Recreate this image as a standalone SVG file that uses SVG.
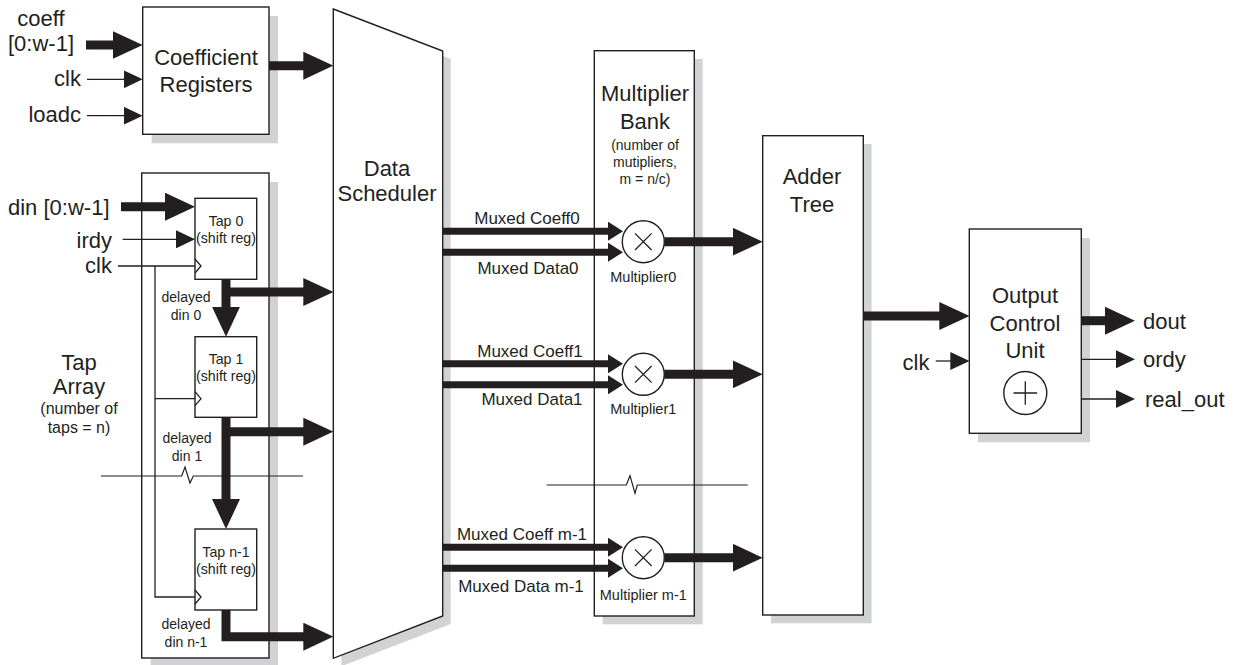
<svg xmlns="http://www.w3.org/2000/svg" width="1237" height="665" viewBox="0 0 1237 665">
<style>
.bg{fill:#ffffff}
.sh{fill:#d1d2d4;stroke:none}
.box{fill:#ffffff;stroke:#231f20;stroke-width:1.4}
.t{font-family:"Liberation Sans",Arial,sans-serif;fill:#231f20}
.l{font-size:22px}
.s{font-size:14.2px}
.m{font-size:17px}
.n{font-size:14.5px}
.c{text-anchor:middle}
.e{text-anchor:end}
.thick{fill:none;stroke:#231f20;stroke-width:9;stroke-linejoin:miter;marker-end:url(#ah)}
.med{fill:none;stroke:#231f20;stroke-width:7;marker-end:url(#am)}
.thin{fill:none;stroke:#231f20;stroke-width:1.3;marker-end:url(#at)}
.wire{fill:none;stroke:#231f20;stroke-width:1.3}
.brk{fill:none;stroke:#231f20;stroke-width:1.2}
</style>
<defs>
<marker id="ah" viewBox="0 0 30 28" refX="1" refY="14" markerWidth="30" markerHeight="28" markerUnits="userSpaceOnUse" orient="auto"><path d="M0,0 L30,14 L0,28 z" fill="#231f20"/></marker>
<marker id="am" viewBox="0 0 15 19" refX="1" refY="9.5" markerWidth="15" markerHeight="19" markerUnits="userSpaceOnUse" orient="auto"><path d="M0,0 L15,9.5 L0,19 z" fill="#231f20"/></marker>
<marker id="at" viewBox="0 0 19 18" refX="1" refY="9" markerWidth="19" markerHeight="18" markerUnits="userSpaceOnUse" orient="auto"><path d="M0,0 L19,9 L0,18 z" fill="#231f20"/></marker>
</defs>
<rect class="bg" x="0" y="0" width="1237" height="665"/>

<g id="coefficient-registers">
<rect class="sh" x="151.7" y="16" width="126.3" height="127.3"/>
<rect class="box" x="142.7" y="7" width="126.3" height="127.3"/>
<text class="t l c" x="206" y="65">Coefficient</text>
<text class="t l c" x="206" y="92">Registers</text>
</g>

<g id="tap-array">
<rect class="sh" x="150.7" y="182" width="127.3" height="485"/>
<rect class="box" x="141.7" y="173" width="127.3" height="485"/>
</g>

<g id="tap-array-label">
<text class="t l c" x="79" y="370">Tap</text>
<text class="t l c" x="79" y="394">Array</text>
<text class="t c" style="font-size:16px" x="79" y="414">(number of</text>
<text class="t c" style="font-size:16px" x="79" y="433">taps = n)</text>
</g>

<g id="tap0">
<rect class="box" x="195" y="198.3" width="61.7" height="81"/>
<polyline class="wire" points="195,259 201,266 195,273"/>
<text class="t s c" x="226" y="226">Tap 0</text>
<text class="t s c" x="226" y="243">(shift reg)</text>
</g>

<g id="tap1">
<rect class="box" x="195" y="336.7" width="61.7" height="80.6"/>
<polyline class="wire" points="195,391.7 201,398.7 195,405.7"/>
<text class="t s c" x="226" y="364">Tap 1</text>
<text class="t s c" x="226" y="381">(shift reg)</text>
</g>

<g id="tapn1">
<rect class="box" x="195" y="529" width="61.7" height="81"/>
<polyline class="wire" points="195,590 201,597 195,604"/>
<text class="t s c" x="226" y="557">Tap n-1</text>
<text class="t s c" x="226" y="574">(shift reg)</text>
</g>

<g id="data-scheduler">
<polygon class="sh" points="341.3,17 450.7,59 450.7,624 341.3,666.3"/>
<polygon class="box" points="333.3,9 442.7,51 442.7,616 333.3,658.3"/>
<text class="t l c" x="387" y="176">Data</text>
<text class="t l c" x="387" y="201">Scheduler</text>
</g>

<g id="multiplier-bank">
<rect class="sh" x="602.7" y="59" width="100" height="565.3"/>
<rect class="box" x="594.3" y="50.7" width="100" height="565.3"/>
<text class="t l c" x="645" y="101">Multiplier</text>
<text class="t l c" x="645" y="129">Bank</text>
<text class="t c" style="font-size:14px" x="645" y="150">(number of</text>
<text class="t c" style="font-size:14px" x="645" y="167">mutipliers,</text>
<text class="t c" style="font-size:14px" x="645" y="184">m = n/c)</text>
</g>

<g id="adder-tree">
<rect class="sh" x="771" y="144" width="100.6" height="479.3"/>
<rect class="box" x="762.7" y="135.7" width="100.6" height="479.3"/>
<text class="t l c" x="812" y="184">Adder</text>
<text class="t l c" x="812" y="212">Tree</text>
</g>

<g id="output-control-unit">
<rect class="sh" x="978" y="238" width="112" height="204.3"/>
<rect class="box" x="969.3" y="229" width="112" height="204.3"/>
<text class="t l c" x="1025" y="303">Output</text>
<text class="t l c" x="1025" y="331">Control</text>
<text class="t l c" x="1025" y="358">Unit</text>
<circle class="box" cx="1025.3" cy="393" r="21.5"/>
<path class="wire" d="M1013.5,393 H1037.1 M1025.3,381.2 V404.8"/>
</g>

<g id="io-labels">
<text class="t l c" x="41" y="26">coeff</text>
<text class="t l c" x="41" y="51">[0:w-1]</text>
<text class="t l e" x="81" y="86">clk</text>
<text class="t l e" x="81" y="122">loadc</text>
<text class="t l" x="8" y="215">din [0:w-1]</text>
<text class="t l e" x="112" y="248">irdy</text>
<text class="t l e" x="112" y="273">clk</text>
<text class="t l e" x="929.5" y="370">clk</text>
<text class="t l" x="1143" y="329">dout</text>
<text class="t l" x="1143" y="367">ordy</text>
<text class="t l" x="1145" y="407">real_out</text>
</g>

<g id="connectors">
<path class="thick" d="M86,45 H113.7"/>
<path class="thin" d="M87,79.3 H124.7"/>
<path class="thin" d="M87,115.7 H124.7"/>
<path class="thick" d="M269,65.7 H304.3"/>
<path class="thick" d="M121,206.7 H166"/>
<path class="thin" d="M122.7,239.3 H177"/>
<path class="wire" d="M118,266 H195 M155,266 V597 H195 M155,398.7 H195"/>
<path class="thick" d="M226,279.3 V307.7"/>
<path class="thick" d="M222,292 H304.3"/>
<path class="thick" d="M226,417.3 V500"/>
<path class="thick" d="M222,431.7 H304.3"/>
<path class="thick" d="M226,610 V636.7 H304.3"/>
<path class="med" d="M442.7,231.2 H609"/>
<path class="med" d="M442.7,252.2 H609"/>
<path class="med" d="M442.7,363.8 H609"/>
<path class="med" d="M442.7,384.8 H609"/>
<path class="med" d="M442.7,547.2 H609"/>
<path class="med" d="M442.7,568.2 H609"/>
<path class="thick" d="M664.3,241.7 H733.7"/>
<path class="thick" d="M664.3,374.3 H733.7"/>
<path class="thick" d="M664.3,557.7 H733.7"/>
<path class="thick" d="M863.3,316 H940.3"/>
<path class="thin" d="M935.7,361 H951.3"/>
<path class="thick" d="M1081.3,320.7 H1106"/>
<path class="thin" d="M1081.3,359.3 H1117"/>
<path class="thin" d="M1081.3,399 H1117"/>
<path class="brk" d="M101,476 H181.7 L185,467 L190,483 L193.3,476 H303"/>
<path class="brk" d="M546.7,485 H626.3 L630,475.7 L635,493.3 L637.3,485 H747.7"/>
</g>

<g id="connector-labels">
<text class="t m c" x="527" y="224">Muxed Coeff0</text>
<text class="t m c" x="528" y="274">Muxed Data0</text>
<text class="t m c" x="530" y="357">Muxed Coeff1</text>
<text class="t m c" x="532" y="405">Muxed Data1</text>
<text class="t m c" x="522" y="540">Muxed Coeff m-1</text>
<text class="t m c" x="521" y="592">Muxed Data m-1</text>
<text class="t c" x="186" y="302" style="font-size:14px">delayed</text>
<text class="t c" x="186" y="320" style="font-size:14px">din 0</text>
<text class="t c" x="187" y="443" style="font-size:14px">delayed</text>
<text class="t c" x="187" y="461" style="font-size:14px">din 1</text>
<text class="t c" x="186" y="629" style="font-size:14px">delayed</text>
<text class="t c" x="186" y="647" style="font-size:14px">din n-1</text>
</g>

<g id="multiplier0">
<circle class="box" cx="643.3" cy="241.7" r="21"/>
<path class="wire" d="M635,233.4 L651.6,250 M651.6,233.4 L635,250"/>
<text class="t n c" x="643.3" y="282">Multiplier0</text>
</g>
<g id="multiplier1">
<circle class="box" cx="643.3" cy="374.3" r="21"/>
<path class="wire" d="M635,366 L651.6,382.6 M651.6,366 L635,382.6"/>
<text class="t n c" x="643.3" y="414">Multiplier1</text>
</g>
<g id="multiplier-m1">
<circle class="box" cx="643.3" cy="557.7" r="21"/>
<path class="wire" d="M635,549.4 L651.6,566 M651.6,549.4 L635,566"/>
<text class="t n c" x="643.3" y="600">Multiplier m-1</text>
</g>
</svg>
